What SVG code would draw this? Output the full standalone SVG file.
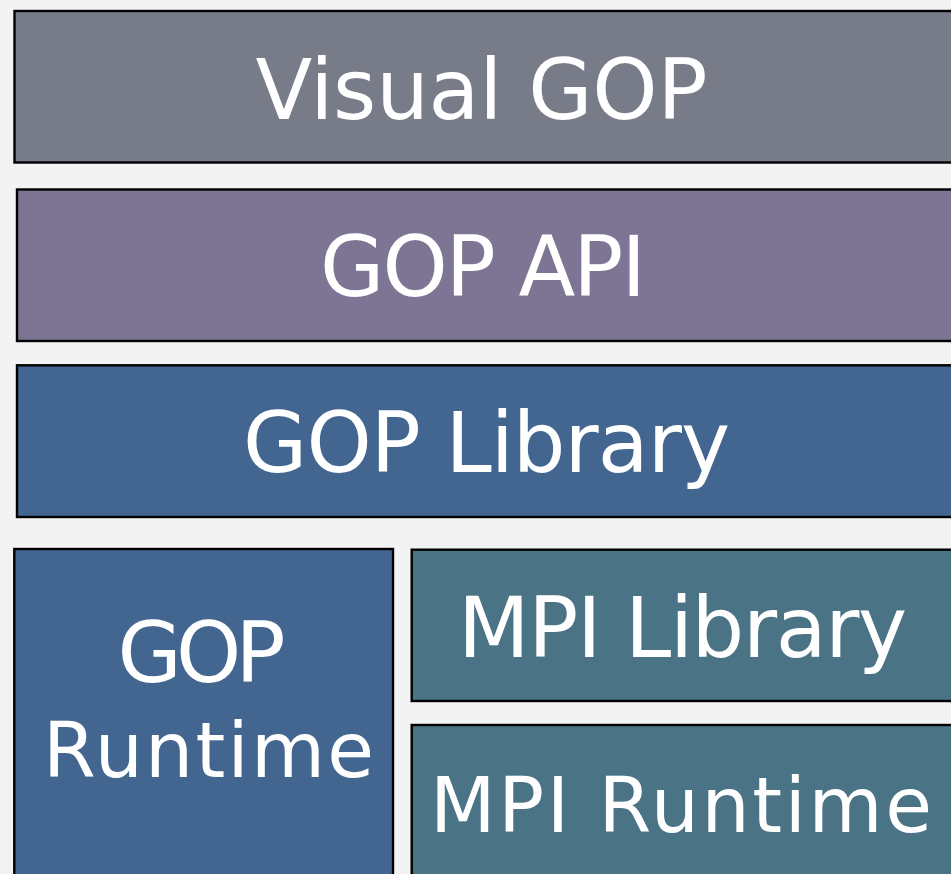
<svg xmlns="http://www.w3.org/2000/svg" width="951" height="874" viewBox="0 0 951 874">
  <style>
    .box { stroke: #000; stroke-width: 2.4; }
    .lbl { font-family: "DejaVu Sans", "Liberation Sans", sans-serif; font-size: 83px; fill: #ffffff; text-anchor: middle; }
    .sm { font-size: 76px; }
  </style>
  <rect width="951" height="874" fill="#f3f3f3"/>
  <g id="visual-gop">
    <rect class="box" x="14.5" y="11" width="950" height="151.5" fill="#787c88"/>
    <text class="lbl" x="481.5" y="119" textLength="452">Visual GOP</text>
  </g>
  <g id="gop-api">
    <rect class="box" x="17" y="189.5" width="950" height="151.5" fill="#7e7594"/>
    <text class="lbl" x="483" y="296" textLength="326">GOP API</text>
  </g>
  <g id="gop-library">
    <rect class="box" x="17" y="365.3" width="950" height="151.7" fill="#436690"/>
    <text class="lbl" x="486.5" y="472" textLength="487">GOP Library</text>
  </g>
  <g id="gop-runtime">
    <rect class="box" x="14.3" y="549" width="378.7" height="340" fill="#436690"/>
    <text class="lbl" x="201.5" y="682" textLength="168">GOP</text>
    <text class="lbl sm" x="208.5" y="777" textLength="331">Runtime</text>
  </g>
  <g id="mpi-library">
    <rect class="box" x="411.7" y="549.7" width="550" height="151.3" fill="#4a7386"/>
    <text class="lbl" x="682.5" y="657" textLength="449">MPI Library</text>
  </g>
  <g id="mpi-runtime">
    <rect class="box" x="411.7" y="725" width="550" height="170" fill="#4a7386"/>
    <text class="lbl sm" x="681" y="832" textLength="502">MPI Runtime</text>
  </g>
  <g id="connectors"/>
</svg>
